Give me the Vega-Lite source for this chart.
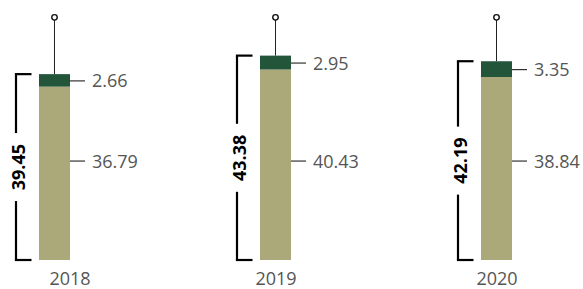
{
  "$schema": "https://vega.github.io/schema/vega-lite/v6.json",
  "width": 551,
  "height": 245,
  "autosize": {"type": "none"},
  "padding": {"left": 0, "top": 15, "right": 32, "bottom": 29},
  "config": {"view": {"stroke": null}, "font": "Open Sans"},
  "datasets": {
    "segments": [
      {"year": "2018", "part": "bottom", "value": 36.79},
      {"year": "2018", "part": "top", "value": 2.66},
      {"year": "2019", "part": "bottom", "value": 40.43},
      {"year": "2019", "part": "top", "value": 2.95},
      {"year": "2020", "part": "bottom", "value": 38.84},
      {"year": "2020", "part": "top", "value": 3.35}
    ],
    "totals": [
      {"year": "2018", "total": 39.45},
      {"year": "2019", "total": 43.38},
      {"year": "2020", "total": 42.19}
    ]
  },
  "encoding": {
    "x": {
      "field": "year",
      "type": "nominal",
      "scale": {"type": "point", "padding": 0.2466},
      "axis": {
        "title": null,
        "domain": false,
        "ticks": false,
        "labelAngle": 0,
        "labelFontSize": 18,
        "labelColor": "#555555",
        "labelPadding": 10,
        "labelOffset": {"condition": {"test": "datum.value == '2018'", "value": 15}, "value": 0}
      }
    }
  },
  "layer": [
    {
      "data": {"name": "totals"},
      "mark": {"type": "rule", "color": "#222222", "strokeWidth": 1},
      "encoding": {
        "y": {"field": "total", "type": "quantitative", "scale": {"domain": [0, 52], "nice": false}, "axis": null},
        "y2": {"datum": 51.5}
      }
    },
    {
      "data": {"name": "totals"},
      "mark": {"type": "point", "shape": "circle", "filled": true, "fill": "white", "stroke": "#111111", "strokeWidth": 1.4, "size": 30, "opacity": 1},
      "encoding": {
        "y": {"datum": 51.5, "type": "quantitative", "scale": {"domain": [0, 52], "nice": false}, "axis": null}
      }
    },
    {
      "data": {"name": "segments"},
      "mark": {"type": "bar", "width": 31},
      "encoding": {
        "y": {"field": "value", "type": "quantitative", "stack": "zero", "scale": {"domain": [0, 52], "nice": false}, "axis": null},
        "color": {"field": "part", "type": "nominal", "scale": {"domain": ["bottom", "top"], "range": ["#aba879", "#22553a"]}, "legend": null},
        "order": {"field": "part", "sort": "ascending"}
      }
    },
    {
      "data": {"name": "totals"},
      "transform": [{"calculate": "datum.total / 2", "as": "mid"}],
      "mark": {"type": "rule", "color": "black", "strokeWidth": 2.2, "xOffset": -38.5, "y2Offset": -34},
      "encoding": {
        "y": {"field": "total", "type": "quantitative", "scale": {"domain": [0, 52], "nice": false}, "axis": null},
        "y2": {"field": "mid"}
      }
    },
    {
      "data": {"name": "totals"},
      "transform": [{"calculate": "datum.total / 2", "as": "mid"}],
      "mark": {"type": "rule", "color": "black", "strokeWidth": 2.2, "xOffset": -38.5, "yOffset": 34},
      "encoding": {
        "y": {"field": "mid", "type": "quantitative", "scale": {"domain": [0, 52], "nice": false}, "axis": null},
        "y2": {"datum": 0}
      }
    },
    {
      "data": {"name": "totals"},
      "mark": {"type": "rule", "color": "black", "strokeWidth": 2.2, "xOffset": -39.6, "x2Offset": -23},
      "encoding": {
        "x2": {"field": "year"},
        "y": {"field": "total", "type": "quantitative", "scale": {"domain": [0, 52], "nice": false}, "axis": null}
      }
    },
    {
      "data": {"name": "totals"},
      "mark": {"type": "rule", "color": "black", "strokeWidth": 2.2, "xOffset": -39.6, "x2Offset": -23},
      "encoding": {
        "x2": {"field": "year"},
        "y": {"datum": 0, "type": "quantitative", "scale": {"domain": [0, 52], "nice": false}, "axis": null}
      }
    },
    {
      "data": {"name": "totals"},
      "transform": [{"calculate": "datum.total / 2", "as": "mid"}],
      "mark": {"type": "text", "angle": 270, "fontWeight": "bold", "fontSize": 18, "color": "black", "align": "center", "baseline": "middle", "xOffset": -34.5},
      "encoding": {
        "y": {"field": "mid", "type": "quantitative", "scale": {"domain": [0, 52], "nice": false}, "axis": null},
        "text": {"field": "total", "type": "quantitative", "format": ".2f"}
      }
    },
    {
      "data": {"name": "segments"},
      "transform": [
        {"stack": "value", "groupby": ["year"], "sort": [{"field": "part", "order": "ascending"}], "as": ["v0", "v1"]},
        {"calculate": "(datum.v0 + datum.v1) / 2", "as": "mid"},
        {"filter": "datum.part == 'top'"}
      ],
      "layer": [
        {
          "mark": {"type": "rule", "color": "#333333", "strokeWidth": 1.2, "xOffset": 15.5, "x2Offset": 30.5, "yOffset": 0.5},
          "encoding": {
            "x2": {"field": "year"},
            "y": {"field": "mid", "type": "quantitative", "scale": {"domain": [0, 52], "nice": false}, "axis": null}
          }
        },
        {
          "mark": {"type": "text", "align": "left", "baseline": "middle", "fontSize": 18, "color": "#555555", "xOffset": 37.5, "yOffset": 2},
          "encoding": {
            "y": {"field": "mid", "type": "quantitative", "scale": {"domain": [0, 52], "nice": false}, "axis": null},
            "text": {"field": "value", "type": "quantitative", "format": ".2f"}
          }
        }
      ]
    },
    {
      "data": {"name": "segments"},
      "transform": [{"filter": "datum.part == 'bottom'"}],
      "layer": [
        {
          "mark": {"type": "rule", "color": "#333333", "strokeWidth": 1.2, "xOffset": 15.5, "x2Offset": 30.5},
          "encoding": {
            "x2": {"field": "year"},
            "y": {"datum": 21, "type": "quantitative", "scale": {"domain": [0, 52], "nice": false}, "axis": null}
          }
        },
        {
          "mark": {"type": "text", "align": "left", "baseline": "middle", "fontSize": 18, "color": "#555555", "xOffset": 37.5, "yOffset": 2},
          "encoding": {
            "y": {"datum": 21, "type": "quantitative", "scale": {"domain": [0, 52], "nice": false}, "axis": null},
            "text": {"field": "value", "type": "quantitative", "format": ".2f"}
          }
        }
      ]
    }
  ]
}
